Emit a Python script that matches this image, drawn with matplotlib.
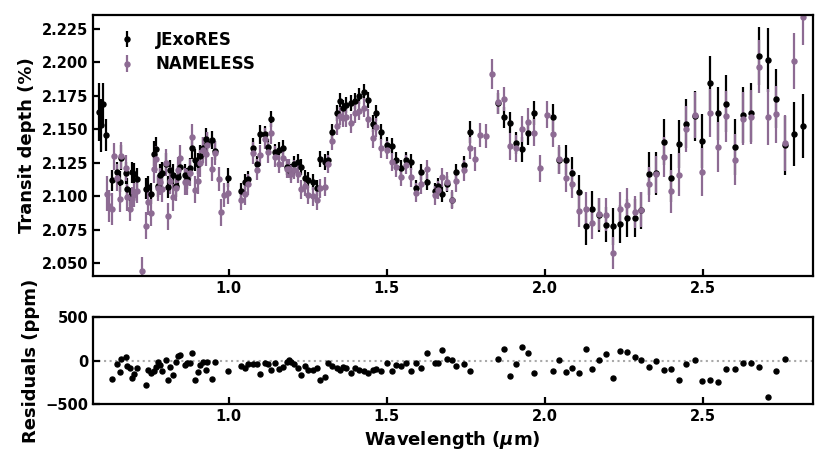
import numpy as np
import matplotlib
import matplotlib.pyplot as plt

matplotlib.rc('font', size=10.5, weight='bold')
matplotlib.rc('axes', labelweight='bold', linewidth=1.6)

nan = np.nan

# wavelength grid (micron)
wl = np.array([
    0.590, 0.597, 0.602, 0.611, 0.615, 0.620, 0.629, 0.638, 0.647, 0.655, 0.660,
    0.674, 0.678, 0.687, 0.695, 0.699, 0.708, 0.724, 0.739, 0.745, 0.755,
    0.763, 0.769, 0.776, 0.782, 0.790, 0.801, 0.808, 0.815, 0.824, 0.832,
    0.840, 0.847, 0.861, 0.868, 0.877, 0.885, 0.892, 0.903, 0.908, 0.919,
    0.929, 0.931, 0.948, 0.956, 0.968, 0.976, 0.986, 0.998, 1.040, 1.051,
    1.061, 1.077, 1.088, 1.100, 1.114, 1.125, 1.135, 1.146, 1.159, 1.172,
    1.183, 1.191, 1.198, 1.206, 1.219, 1.230, 1.241, 1.251, 1.265, 1.280,
    1.290, 1.304, 1.314, 1.328, 1.341, 1.353, 1.360, 1.372, 1.388, 1.399,
    1.412, 1.427, 1.441, 1.455, 1.467, 1.483, 1.501, 1.516, 1.529, 1.546,
    1.560, 1.578, 1.592, 1.610, 1.628, 1.652, 1.662, 1.676, 1.691, 1.705,
    1.720, 1.744, 1.763, 1.778, 1.796, 1.815, 1.834, 1.852, 1.870, 1.889,
    1.908, 1.927, 1.947, 1.966, 1.986, 2.007, 2.026, 2.045, 2.067, 2.088,
    2.109, 2.130, 2.151, 2.172, 2.195, 2.216, 2.239, 2.261, 2.285, 2.306,
    2.330, 2.353, 2.377, 2.401, 2.425, 2.448, 2.475, 2.499, 2.524, 2.549,
    2.575, 2.601, 2.628, 2.654, 2.680, 2.707, 2.733, 2.760, 2.788, 2.817])

# transit depth (%)
jexores = np.array([
    2.1630, 2.1530, 2.1690, 2.1460, nan, nan, 2.1120, nan, 2.1180, 2.1110, 2.1290,
    2.1175, 2.1057, 2.0995, 2.1180, 2.1170, 2.1130, nan, 2.1057, 2.1070, 2.1020,
    2.1320, 2.1350, 2.1075, 2.1160, 2.1175, 2.1245, 2.1070, 2.1195, 2.1160, 2.1075,
    2.1145, 2.1220, 2.1160, 2.1132, 2.1210, 2.1360, 2.1270, 2.1245, 2.1300, 2.1360,
    2.1430, 2.1400, 2.1420, 2.1340, nan, nan, nan, 2.1140, 2.1040, 2.1110,
    2.1130, 2.1364, 2.1240, 2.1464, 2.1464, 2.1370, 2.1580, 2.1330, 2.1344, 2.1360,
    2.1220, 2.1200, 2.1180, 2.1240, 2.1260, 2.1220, 2.1140, 2.1120, 2.1110, 2.1060,
    2.1280, 2.1260, 2.1275, 2.1480, 2.1620, 2.1710, 2.1660, 2.1680, 2.1694, 2.1710,
    2.1750, 2.1780, 2.1720, 2.1544, 2.1620, 2.1480, 2.1380, 2.1374, 2.1270, 2.1210,
    2.1270, 2.1260, 2.1060, 2.1180, 2.1110, 2.1040, 2.1080, 2.1020, 2.1095, 2.0970,
    2.1180, 2.1235, 2.1480, nan, nan, nan, nan, 2.1694, 2.1590, 2.1550,
    2.1400, 2.1350, 2.1474, 2.1624, nan, nan, 2.1590, 2.1270, 2.1270, 2.1177,
    2.1030, 2.0775, 2.0907, 2.0860, 2.0788, 2.0775, 2.0795, 2.0840, 2.0840, 2.0895,
    2.1170, 2.1171, 2.1406, 2.1137, 2.1389, 2.1544, 2.1600, 2.1414, 2.1848, 2.1619,
    2.1693, 2.1370, 2.1606, 2.1624, 2.2048, 2.2018, 2.1730, 2.1380, 2.1464, 2.1524])

nameless = np.array([
    nan, nan, nan, nan, 2.1020, 2.0930, 2.0905, 2.1300, 2.1139, 2.0980, 2.1304,
    2.1212, 2.0993, 2.0904, 2.0980, 2.1013, 2.1039, 2.0446, 2.0780, 2.0960, 2.0879,
    2.1202, 2.1278, 2.1062, 2.1108, 2.1057, 2.1251, 2.0851, 2.1116, 2.0992, 2.1062,
    2.1197, 2.1284, 2.1108, 2.1107, 2.1177, 2.1443, 2.1051, 2.1115, 2.1248, 2.1347,
    2.1320, 2.1387, 2.1205, 2.1327, 2.1130, 2.0880, 2.1010, 2.1022, 2.0976, 2.1019,
    2.1089, 2.1323, 2.1199, 2.1307, 2.1431, 2.1329, 2.1470, 2.1297, 2.1241, 2.1288,
    2.1207, 2.1206, 2.1167, 2.1199, 2.1169, 2.1052, 2.1076, 2.1010, 2.1000, 2.0969,
    2.1061, 2.1072, 2.1242, 2.1416, 2.1529, 2.1600, 2.1588, 2.1589, 2.1545, 2.1619,
    2.1640, 2.1662, 2.1579, 2.1434, 2.1517, 2.1358, 2.1347, 2.1256, 2.1218, 2.1146,
    2.1237, 2.1142, 2.1027, 2.1089, 2.1201, 2.1007, 2.1047, 2.1142, 2.1109, 2.0976,
    2.1116, 2.1194, 2.1362, 2.1280, 2.1460, 2.1450, 2.1913, 2.1708, 2.1724, 2.1374,
    2.1359, 2.1503, 2.1557, 2.1475, 2.1210, 2.1610, 2.1468, 2.1276, 2.1140, 2.1094,
    2.0889, 2.0909, 2.0804, 2.0866, 2.0864, 2.0579, 2.0909, 2.0939, 2.0885, 2.0901,
    2.1091, 2.1165, 2.1296, 2.1038, 2.1162, 2.1503, 2.1606, 2.1180, 2.1621, 2.1369,
    2.1598, 2.1275, 2.1581, 2.1591, 2.1969, 2.1594, 2.1612, 2.1401, 2.2010, 2.2340])

jexores_err = np.array([
    0.022, 0.020, 0.016, 0.012, nan, nan, 0.008, nan, 0.008, 0.008, 0.009,
    0.008, 0.008, 0.007, 0.008, 0.008, 0.008, nan, 0.008, 0.008, 0.008,
    0.009, 0.009, 0.008, 0.008, 0.008, 0.008, 0.008, 0.008, 0.008, 0.008,
    0.008, 0.008, 0.008, 0.008, 0.008, 0.008, 0.008, 0.008, 0.008, 0.008,
    0.008, 0.008, 0.007, 0.007, nan, nan, nan, 0.007, 0.006, 0.006,
    0.006, 0.007, 0.006, 0.007, 0.006, 0.006, 0.006, 0.006, 0.006, 0.006,
    0.006, 0.006, 0.006, 0.006, 0.006, 0.006, 0.006, 0.006, 0.006, 0.006,
    0.006, 0.006, 0.006, 0.006, 0.006, 0.006, 0.006, 0.006, 0.006, 0.006,
    0.006, 0.006, 0.006, 0.006, 0.006, 0.006, 0.006, 0.006, 0.006, 0.006,
    0.006, 0.006, 0.006, 0.006, 0.006, 0.006, 0.006, 0.006, 0.006, 0.006,
    0.006, 0.007, 0.008, nan, nan, nan, nan, 0.008, 0.008, 0.008,
    0.008, 0.009, 0.009, 0.009, nan, nan, 0.010, 0.010, 0.011, 0.012,
    0.013, 0.014, 0.013, 0.013, 0.013, 0.014, 0.014, 0.014, 0.014, 0.014,
    0.016, 0.016, 0.017, 0.018, 0.018, 0.018, 0.019, 0.020, 0.020, 0.020,
    0.021, 0.021, 0.021, 0.022, 0.022, 0.024, 0.022, 0.022, 0.024, 0.024])

nameless_err = np.array([
    nan, nan, nan, nan, 0.013, 0.012, 0.012, 0.010, 0.010, 0.010, 0.010,
    0.010, 0.010, 0.009, 0.009, 0.009, 0.009, 0.010, 0.010, 0.010, 0.010,
    0.010, 0.010, 0.010, 0.010, 0.010, 0.010, 0.010, 0.010, 0.010, 0.010,
    0.010, 0.010, 0.010, 0.010, 0.010, 0.010, 0.010, 0.010, 0.010, 0.010,
    0.009, 0.009, 0.009, 0.009, 0.009, 0.010, 0.009, 0.008, 0.008, 0.008,
    0.008, 0.008, 0.008, 0.008, 0.008, 0.008, 0.008, 0.008, 0.007, 0.007,
    0.007, 0.007, 0.007, 0.007, 0.007, 0.007, 0.007, 0.007, 0.007, 0.007,
    0.007, 0.007, 0.007, 0.007, 0.007, 0.007, 0.007, 0.007, 0.007, 0.007,
    0.007, 0.007, 0.007, 0.007, 0.007, 0.007, 0.007, 0.007, 0.007, 0.007,
    0.007, 0.007, 0.007, 0.007, 0.007, 0.007, 0.007, 0.007, 0.007, 0.007,
    0.008, 0.008, 0.008, 0.009, 0.009, 0.009, 0.011, 0.009, 0.009, 0.010,
    0.010, 0.010, 0.010, 0.010, 0.010, 0.010, 0.010, 0.011, 0.011, 0.011,
    0.012, 0.012, 0.012, 0.012, 0.012, 0.012, 0.012, 0.012, 0.012, 0.013,
    0.013, 0.014, 0.015, 0.016, 0.016, 0.017, 0.017, 0.018, 0.018, 0.019,
    0.019, 0.019, 0.020, 0.020, 0.020, 0.021, 0.021, 0.021, 0.021, 0.021])

# residuals NAMELESS - JExoRES in ppm
resid = (nameless - jexores) * 1e4

c_jex = 'black'
c_nam = '#8d6b93'

fig = plt.figure(figsize=(8.3, 4.67), dpi=100)
ax1 = fig.add_axes([0.112, 0.409, 0.867, 0.559])
ax2 = fig.add_axes([0.112, 0.135, 0.867, 0.186])

ax1.errorbar(wl, jexores, yerr=jexores_err, fmt='o', color=c_jex, ms=3.6,
             elinewidth=1.6, capsize=0, label='JExoRES')
ax1.errorbar(wl, nameless, yerr=nameless_err, fmt='o', color=c_nam, ms=3.6,
             elinewidth=1.6, capsize=0, label='NAMELESS')
ax1.set_xlim(0.570, 2.848)
ax1.set_ylim(2.0405, 2.2355)
ax1.set_yticks(np.arange(2.050, 2.2251, 0.025))
ax1.yaxis.set_major_formatter(matplotlib.ticker.FormatStrFormatter('%.3f'))
ax1.set_xticks([1.0, 1.5, 2.0, 2.5])
ax1.set_ylabel('Transit depth (%)', fontsize=13)
leg = ax1.legend(loc='upper left', frameon=False, fontsize=12,
                 handletextpad=0.6, borderaxespad=0.45, labelspacing=0.4,
                 borderpad=0.5, handlelength=2.2)

ax2.plot(wl, resid, 'o', color='black', ms=3.6)
ax2.axhline(0, color='darkgray', ls=':', lw=1.5, zorder=0)
ax2.set_xlim(0.570, 2.848)
ax2.set_ylim(-500, 500)
ax2.set_yticks([-500, 0, 500])
ax2.set_xticks([1.0, 1.5, 2.0, 2.5])
ax2.set_xlabel(r'Wavelength ($\mu$m)', fontsize=13)
ax2.set_ylabel('Residuals (ppm)', fontsize=13)

for ax in (ax1, ax2):
    ax.tick_params(direction='in', length=5, width=1.6)

fig.align_ylabels([ax1, ax2])
fig.savefig('out.png', dpi=100)
